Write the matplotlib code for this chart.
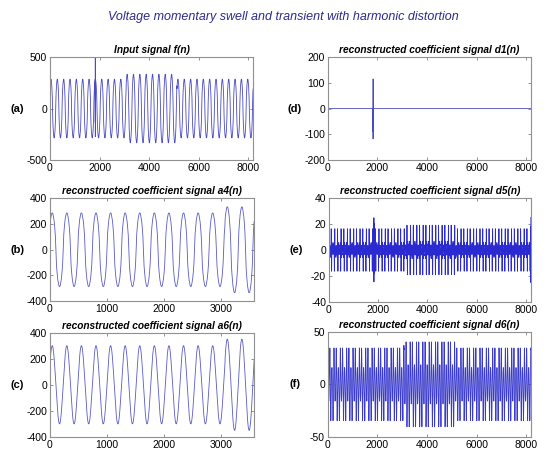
import numpy as np
import matplotlib
matplotlib.use("Agg")
import matplotlib.pyplot as plt

plt.rcParams['font.family'] = ['Liberation Sans', 'DejaVu Sans']
plt.rcParams['axes.unicode_minus'] = False

# signal description
samples_per_cycle = 256
n_total = 8192
n_short = 3584
start_phase_deg = 34

# fundamental peak of every cycle (32 cycles); swell in cycles 12-19
fund_peak = [300, 300, 300, 300, 300, 300, 300, 300, 300, 300, 300, 300,
             350, 350, 350, 350, 350, 350, 350, 350,
             300, 300, 300, 300, 300, 300, 300, 300, 300, 300, 300, 300]

# harmonic content of the detail levels (order, amplitude at 300 fundamental)
d6_orders = [1, 3, 5]
d6_amps = [6, 28, 6]
d5_orders = [5, 7, 9, 11]
d5_amps = [6, 5, 4, 3]

# transient burst around sample 1830
trans_start = 1826
input_trans = [0, 180, -420, 210, -560, 190, -400, 120, -250, 60, -120, 0]
d1_trans = [0, 55, -118, 115, -90, 45, -15, 0]
d5_trans = [0, 22, -27, 18, -20, 10, -6, 0]

# edge effects of d5
d5_edge_left = [-25, 12, -18, 8]
d5_edge_right = [10, -14, 18, -25, 25]

# build the series from the values above
n = np.arange(n_total)
theta = 2 * np.pi * n / samples_per_cycle + np.deg2rad(start_phase_deg)
env = np.repeat(np.array(fund_peak, dtype=float), samples_per_cycle)[:n_total]
scale = env / 300.0

a6 = env * np.sin(theta)
d6 = np.zeros(n_total)
for k, a in zip(d6_orders, d6_amps):
    d6 += scale * a * np.sin(k * theta)
d5 = np.zeros(n_total)
for k, a in zip(d5_orders, d5_amps):
    d5 += scale * a * np.sin(k * theta)

a4 = a6 + d6 + d5

d5[trans_start:trans_start + len(d5_trans)] += d5_trans
d5[:len(d5_edge_left)] = d5_edge_left
d5[-len(d5_edge_right):] = d5_edge_right

d1 = np.zeros(n_total)
d1[trans_start:trans_start + len(d1_trans)] = d1_trans
f = a4.copy()
f[trans_start:trans_start + len(input_trans)] += input_trans

fig = plt.figure(figsize=(5.49, 4.57), dpi=100)
fig.text(0.517, 0.963, "Voltage momentary swell and transient with harmonic distortion",
         ha="center", va="center", fontsize=9, style="italic", color="#2b2b8c")

panels = [
    # label, title, data, xlim, ylim, yticks, xticks, rect, colour
    ("(a)", "Input signal f(n)", f, n_total, 500, [-500, 0, 500],
     [0, 2000, 4000, 6000, 8000], [0.091, 0.650, 0.370, 0.225], "#4a4ac4"),
    ("(d)", "reconstructed coefficient signal d1(n)", d1, n_total, 200,
     [-200, -100, 0, 100, 200], [0, 2000, 4000, 6000, 8000],
     [0.597, 0.650, 0.370, 0.225], "#4a4ac4"),
    ("(b)", "reconstructed coefficient signal a4(n)", a4[:n_short], n_short, 400,
     [-400, -200, 0, 200, 400], [0, 1000, 2000, 3000],
     [0.091, 0.341, 0.372, 0.225], "#5a5ac8"),
    ("(e)", "reconstructed coefficient signal d5(n)", d5, n_total, 40,
     [-40, -20, 0, 20, 40], [0, 2000, 4000, 6000, 8000],
     [0.599, 0.339, 0.368, 0.228], "#2a2ad0"),
    ("(c)", "reconstructed coefficient signal a6(n)", a6[:n_short], n_short, 400,
     [-400, -200, 0, 200, 400], [0, 1000, 2000, 3000],
     [0.091, 0.044, 0.372, 0.228], "#5a5ac8"),
    ("(f)", "reconstructed coefficient signal d6(n)", d6, n_total, 50,
     [-50, 0, 50], [0, 2000, 4000, 6000, 8000],
     [0.597, 0.044, 0.370, 0.230], "#3a3acc"),
]

for label, title, data, xmax, ymax, yticks, xticks, rect, col in panels:
    ax = fig.add_axes(rect)
    ax.plot(np.arange(len(data)), data, color=col, lw=0.6)
    ax.set_xlim(0, xmax)
    ax.set_ylim(-ymax, ymax)
    ax.set_yticks(yticks)
    ax.set_xticks(xticks)
    ax.tick_params(direction="in", length=2.5, width=0.6, color="#808080",
                   labelsize=7.5, top=True, right=True, pad=2)
    for s in ax.spines.values():
        s.set_color("#909090")
        s.set_linewidth(0.8)
    ax.set_title(title, fontsize=7.3, fontweight="bold", style="italic", pad=3)
    fig.text(rect[0] - 0.06, rect[1] + rect[3] / 2, label, ha="center",
             va="center", fontsize=8, fontweight="bold")

fig.savefig("out.png", dpi=100)
